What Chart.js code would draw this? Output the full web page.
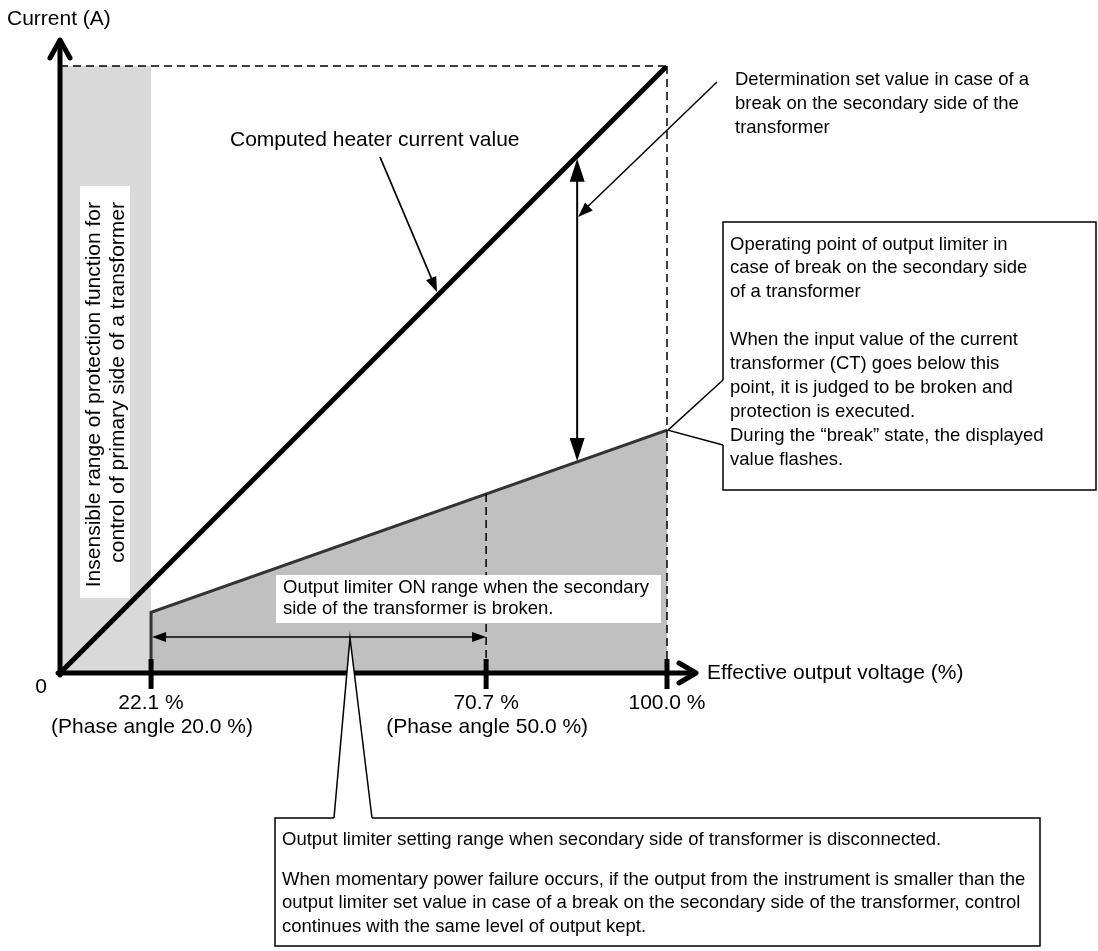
<!DOCTYPE html>
<html>
<head>
<meta charset="utf-8">
<script src="https://cdn.jsdelivr.net/npm/chart.js@4.4.0/dist/chart.umd.min.js"></script>
<style>
  html, body { margin: 0; padding: 0; background: #fff; }
  canvas { display: block; }
</style>
</head>
<body>
<canvas id="grafico" width="1098" height="951"></canvas>
<script>
// schematic data (x = effective output voltage position, y = current, both 0-100)
const heaterX = [0, 100];
const heaterY = [0, 100];
const limiterX = [15, 15, 100];
const limiterY = [0, 10, 40];
const insensibleX = [0, 15];
const insensibleY = [100, 100];
const tickPos = [15, 70.2, 100];
const tickLabels = ["22.1 %", "70.7 %", "100.0 %"];
const phaseLabels = ["(Phase angle 20.0 %)", "(Phase angle 50.0 %)", ""];
const onRangeEnd = 70.2;
const checkX = 85.2;

const FONT = "'Liberation Sans', Arial, sans-serif";

const pts = (xs, ys) => xs.map((x, i) => ({ x: x, y: ys[i] }));

const limiterAt = (x) => limiterY[1] + (limiterY[2] - limiterY[1]) * (x - limiterX[1]) / (limiterX[2] - limiterX[1]);

function head(ctx, x0, y0, x1, y1, len, half) {
  const a = Math.atan2(y1 - y0, x1 - x0);
  const c = Math.cos(a), s = Math.sin(a);
  ctx.beginPath();
  ctx.moveTo(x1, y1);
  ctx.lineTo(x1 - len * c + half * s, y1 - len * s - half * c);
  ctx.lineTo(x1 - len * c - half * s, y1 - len * s + half * c);
  ctx.closePath();
  ctx.fill();
}

function seg(ctx, x0, y0, x1, y1, w) {
  ctx.lineWidth = w;
  ctx.beginPath();
  ctx.moveTo(x0, y0);
  ctx.lineTo(x1, y1);
  ctx.stroke();
}

function texts(ctx, lines, x, ys, size) {
  ctx.font = size + "px " + FONT;
  ctx.fillStyle = "#000";
  ctx.textAlign = "left";
  ctx.textBaseline = "middle";
  lines.forEach((t, i) => ctx.fillText(t, x, ys[i]));
}

const diagrama = {
  id: "diagrama",
  afterDatasetsDraw(chart) {
    const ctx = chart.ctx;
    const sx = chart.scales.x, sy = chart.scales.y;
    const px = (v) => sx.getPixelForValue(v);
    const py = (v) => sy.getPixelForValue(v);
    const x0 = px(0), y0 = py(0), xTop = px(100), yTop = py(100);
    ctx.save();
    ctx.strokeStyle = "#000";
    ctx.fillStyle = "#000";

    // dashed guides
    ctx.setLineDash([8, 5]);
    seg(ctx, x0, yTop, xTop, yTop, 1.5);
    seg(ctx, xTop, yTop, xTop, y0, 1.5);
    seg(ctx, px(onRangeEnd), py(limiterAt(onRangeEnd)), px(onRangeEnd), y0, 1.5);
    ctx.setLineDash([]);

    // rotated label in the insensible range
    ctx.fillStyle = "#fff";
    ctx.fillRect(80, 186, 50, 412);
    ctx.fillStyle = "#000";
    ctx.font = "21px " + FONT;
    ctx.textBaseline = "middle";
    ctx.textAlign = "right";
    [["Insensible range of protection function for", 94], ["control of primary side of a transformer", 118]].forEach(([t, x]) => {
      ctx.save();
      ctx.translate(x, 202);
      ctx.rotate(-Math.PI / 2);
      ctx.fillText(t, 0, 0);
      ctx.restore();
    });

    // ON range label box
    ctx.fillStyle = "#fff";
    ctx.fillRect(276, 575, 385, 48);
    texts(ctx, ["Output limiter ON range when the secondary", "side of the transformer is broken."], 283, [588, 609], 18.5);

    // horizontal double arrow (ON range)
    const ya = 637;
    const xa0 = px(tickPos[0]) + 1, xa1 = px(onRangeEnd);
    seg(ctx, xa0 + 10, ya, xa1 - 10, ya, 1.5);
    head(ctx, xa1, ya, xa0, ya, 14, 5);
    head(ctx, xa0, ya, xa1, ya, 14, 5);

    // axes
    ctx.lineCap = "round";
    ctx.lineJoin = "round";
    seg(ctx, x0, y0 + 2, x0, 42, 5);
    ctx.beginPath();
    ctx.moveTo(x0 - 10, 58); ctx.lineTo(x0, 40); ctx.lineTo(x0 + 10, 58);
    ctx.stroke();
    seg(ctx, x0 - 2, y0, 694, y0, 5);
    ctx.beginPath();
    ctx.moveTo(679, y0 - 10); ctx.lineTo(696, y0); ctx.lineTo(679, y0 + 10);
    ctx.stroke();
    ctx.lineCap = "butt";
    ctx.lineJoin = "miter";

    // ticks and tick labels
    ctx.font = "21px " + FONT;
    ctx.textAlign = "center";
    tickPos.forEach((v, i) => {
      const x = px(v);
      ctx.fillRect(x - 2.5, y0 - 14, 5, 30);
      ctx.fillText(tickLabels[i], x, 703);
      if (phaseLabels[i]) ctx.fillText(phaseLabels[i], x + 1, 727);
    });
    ctx.fillText("0", 41, 687);
    ctx.textAlign = "left";
    ctx.fillText("Current (A)", 7, 19);
    ctx.fillText("Effective output voltage (%)", 707, y0);

    // bottom callout wedge + box
    const apexX = 350, apexY = ya + 1;
    ctx.fillStyle = "#fff";
    ctx.beginPath();
    ctx.moveTo(334, 818); ctx.lineTo(apexX, apexY); ctx.lineTo(372, 818);
    ctx.closePath();
    ctx.fill();
    ctx.lineWidth = 1.5;
    ctx.beginPath();
    ctx.moveTo(334, 818); ctx.lineTo(apexX, apexY); ctx.lineTo(372, 818);
    ctx.stroke();
    ctx.beginPath();
    ctx.moveTo(334, 818); ctx.lineTo(275, 818); ctx.lineTo(275, 946);
    ctx.lineTo(1040, 946); ctx.lineTo(1040, 818); ctx.lineTo(372, 818);
    ctx.stroke();
    texts(ctx, [
      "Output limiter setting range when secondary side of transformer is disconnected.",
      "When momentary power failure occurs, if the output from the instrument is smaller than the",
      "output limiter set value in case of a break on the secondary side of the transformer, control",
      "continues with the same level of output kept."
    ], 282, [840, 880, 903, 927], 18.5);

    // vertical double arrow between heater current and limiter point
    ctx.fillStyle = "#000";
    const xc = px(checkX);
    const yc0 = py(checkX) + 3, yc1 = py(limiterAt(checkX)) - 1;
    seg(ctx, xc, yc0 + 15, xc, yc1 - 15, 2);
    head(ctx, xc, yc1, xc, yc0, 23, 7.5);
    head(ctx, xc, yc0, xc, yc1, 23, 7.5);

    // pointer to computed heater current line
    seg(ctx, 380, 157, 433, 282, 1.8);
    head(ctx, 380, 157, 437, 292, 15, 5.5);
    texts(ctx, ["Computed heater current value"], 230, [140], 21);

    // pointer for determination set value
    seg(ctx, 717, 82, xc + 8, 209, 1.5);
    head(ctx, 717, 82, xc + 1, 217, 15, 5.5);
    texts(ctx, ["Determination set value in case of a", "break on the secondary side of the", "transformer"], 735, [80, 104, 128], 18.5);

    // right callout for limiter operating point
    const lx = xTop + 1, ly = py(limiterY[2]);
    ctx.lineWidth = 1.5;
    ctx.beginPath();
    ctx.moveTo(723, 380); ctx.lineTo(lx, ly); ctx.lineTo(723, 445);
    ctx.stroke();
    ctx.beginPath();
    ctx.moveTo(723, 380); ctx.lineTo(723, 222); ctx.lineTo(1096, 222);
    ctx.lineTo(1096, 490); ctx.lineTo(723, 490); ctx.lineTo(723, 445);
    ctx.stroke();
    const ry = [245, 268, 292, 340, 364, 388, 412, 436, 460];
    texts(ctx, [
      "Operating point of output limiter in",
      "case of break on the secondary side",
      "of a transformer",
      "When the input value of the current",
      "transformer (CT) goes below this",
      "point, it is judged to be broken and",
      "protection is executed.",
      "During the \u201cbreak\u201d state, the displayed",
      "value flashes."
    ], 730, ry, 18.5);

    ctx.restore();
  }
};

new Chart(document.getElementById("grafico"), {
  type: "line",
  data: {
    datasets: [
      {
        label: "Computed heater current value",
        data: pts(heaterX, heaterY),
        borderColor: "#000",
        borderWidth: 5,
        pointRadius: 0,
        fill: false,
        order: 0
      },
      {
        label: "Output limiter",
        data: pts(limiterX, limiterY),
        borderColor: "#333",
        borderWidth: 3,
        backgroundColor: "#c0c0c0",
        pointRadius: 0,
        fill: "origin",
        order: 1
      },
      {
        label: "Insensible range",
        data: pts(insensibleX, insensibleY),
        borderColor: "rgba(0,0,0,0)",
        borderWidth: 0,
        backgroundColor: "#d9d9d9",
        pointRadius: 0,
        fill: "origin",
        order: 2
      }
    ]
  },
  options: {
    responsive: false,
    animation: false,
    events: [],
    layout: { padding: { left: 60, top: 66, right: 431, bottom: 278 } },
    plugins: { legend: { display: false }, tooltip: { enabled: false }, title: { display: false } },
    scales: {
      x: { type: "linear", min: 0, max: 100, display: false },
      y: { type: "linear", min: 0, max: 100, display: false }
    }
  },
  plugins: [diagrama]
});
</script>
</body>
</html>
